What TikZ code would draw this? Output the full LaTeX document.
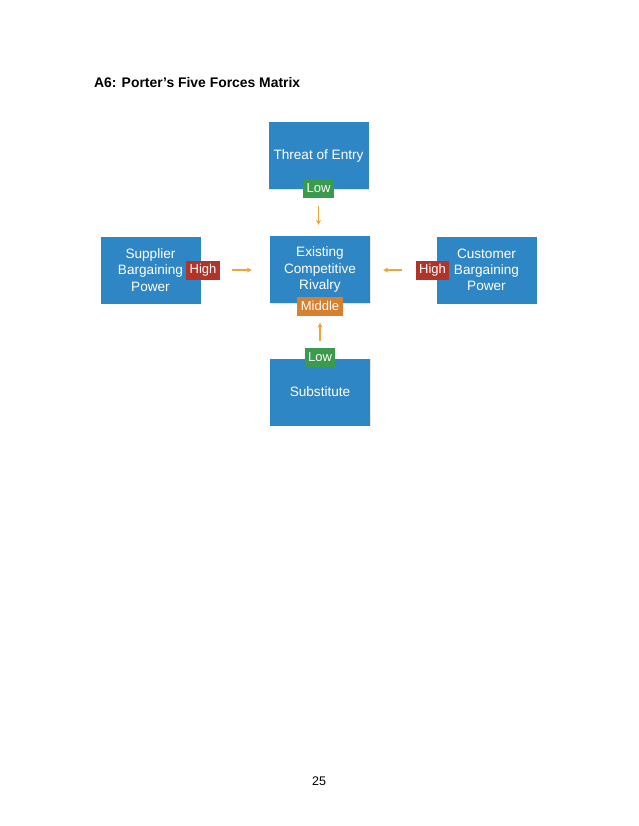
\documentclass[tikz,border=0pt]{standalone}
\usepackage{fontspec}
\setmainfont{Liberation Sans}
\usetikzlibrary{arrows.meta,shadows}

\definecolor{forceblue}{RGB}{47,134,196}
\definecolor{lowgreen}{RGB}{58,155,76}
\definecolor{highred}{RGB}{176,52,42}
\definecolor{midorange}{RGB}{214,128,48}
\definecolor{arroworange}{RGB}{234,165,60}

\tikzset{
  forcebox/.style={fill=forceblue, text=white, align=center, inner sep=0pt,
    minimum width=100, minimum height=67,
    font=\fontsize{13.6}{16.3}\selectfont,
    drop shadow={opacity=0.2, shadow xshift=0.6pt, shadow yshift=-0.8pt}},
  level/.style={text=white, inner xsep=3.5pt, inner ysep=0pt, minimum height=19,
    font=\fontsize{13}{13}\selectfont},
  flow/.style={draw=arroworange, line width=1.2pt, -{Stealth[length=5pt,width=5pt]}}
}

\begin{document}
\begin{tikzpicture}[x=1pt,y=-1pt]
\useasboundingbox[fill=white] (0,0) rectangle (638,826);

% Title and page number
\node[anchor=base west, inner sep=0pt, font=\fontsize{13.9}{16}\bfseries\selectfont] (title) at (94,88) {A6: Porter’s Five Forces Matrix};
\node[anchor=base, inner sep=0pt, font=\fontsize{12.5}{15}\selectfont] (page) at (319,785) {25};

% Five forces
\node[forcebox] (entry) at (318.5,156) {Threat of Entry};
\node[forcebox] (supplier) at (150.5,270) {Supplier\\Bargaining\\Power};
\node[forcebox] (rivalry) at (320,269.5) {Existing\\Competitive\\Rivalry};
\node[forcebox] (customer) at (486.5,270) {Customer\\Bargaining\\Power};
\node[forcebox] (substitute) at (320,392) {Substitute};

% Force levels
\node[level, fill=lowgreen] (entrylow) at (318.5,188.5) {Low};
\node[level, fill=highred] (supplierhigh) at (203,270) {High};
\node[level, fill=midorange] (rivalrymid) at (320,306) {Middle};
\node[level, fill=highred] (customerhigh) at (432.5,270) {High};
\node[level, fill=lowgreen] (substitutelow) at (320,357.5) {Low};

% Arrows towards the rivalry
\draw[flow, shorten <=8pt, shorten >=11pt] (entrylow.south) -- (entrylow.south |- rivalry.north);
\draw[flow, shorten <=12pt, shorten >=18pt] (supplierhigh.east) -- (supplierhigh.east -| rivalry.west);
\draw[flow, shorten <=13pt, shorten >=13pt] (customerhigh.west) -- (customerhigh.west -| rivalry.east);
\draw[flow, shorten <=7pt, shorten >=7pt] (substitutelow.north) -- (rivalrymid.south);

\end{tikzpicture}
\end{document}
